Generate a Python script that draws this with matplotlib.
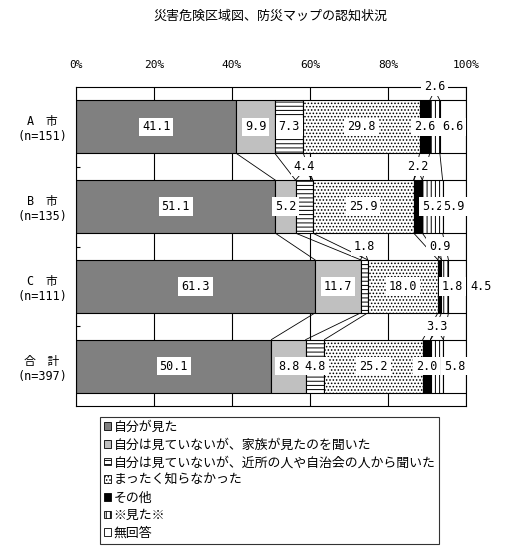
import numpy as np
import matplotlib
matplotlib.use("Agg")
import matplotlib.pyplot as plt
from matplotlib.patches import Patch

plt.rcParams['font.family'] = ['Noto Sans CJK JP', 'DejaVu Sans']
plt.rcParams['hatch.linewidth'] = 0.7

title = '災害危険区域図、防災マップの認知状況'
rows = ['A\u3000市\n(n=151)', 'B\u3000市\n(n=135)', 'C\u3000市\n(n=111)', '合\u3000計\n(n=397)']
series = ['自分が見た',
          '自分は見ていないが、家族が見たのを聞いた',
          '自分は見ていないが、近所の人や自治会の人から聞いた',
          'まったく知らなかった',
          'その他',
          '※見た※',
          '無回答']
jibun = [41.1, 51.1, 61.3, 50.1]
kazoku = [9.9, 5.2, 11.7, 8.8]
kinjo = [7.3, 4.4, 1.8, 4.8]
shiranai = [29.8, 25.9, 18.0, 25.2]
sonota = [2.6, 2.2, 0.9, 2.0]
mita = [2.6, 5.2, 1.8, 3.3]
mukaitou = [6.6, 5.9, 4.5, 5.8]

faces = ['#808080', '#c0c0c0', 'white', 'white', 'black', 'white', 'white']
hatches = [None, None, '----', '.....', None, '||||', None]

# labels drawn in the gap above the bar with leader lines: (row, series)
above = [(0, 5), (1, 2), (1, 4), (2, 2), (2, 4), (3, 5)]
# labels shifted sideways: (row, series) -> shift in %
shift = {(2, 5): 2.0, (2, 6): 6.0}

vals = np.array([jibun, kazoku, kinjo, shiranai, sonota, mita, mukaitou]).T
cum = np.cumsum(vals, axis=1)
left = cum - vals
y = np.arange(len(rows))
h = 0.665

fig = plt.figure(figsize=(5.05, 5.54), dpi=100)
ax = fig.add_axes([76 / 505, 1 - 406 / 554, 390 / 505, 319 / 554])

for j in range(vals.shape[1]):
    ax.barh(y, vals[:, j], left=left[:, j], height=h, color=faces[j],
            hatch=hatches[j], edgecolor='black', linewidth=0.8, zorder=2,
            label=series[j])

# series lines between bars
for i in range(len(rows) - 1):
    for j in range(vals.shape[1] - 1):
        ax.plot([cum[i, j], cum[i + 1, j]], [i + h / 2, i + 1 - h / 2],
                color='black', lw=0.6, zorder=1)

box = dict(facecolor='white', edgecolor='none', pad=2.0)
for i in range(len(rows)):
    for j in range(vals.shape[1]):
        v = vals[i, j]
        xc = left[i, j] + v / 2 + shift.get((i, j), 0)
        if (i, j) in above:
            yl = i - 0.5
            ax.text(xc, yl, f'{v:.1f}', ha='center', va='center', fontsize=8.5,
                    family='DejaVu Sans Mono', bbox=box, zorder=5, clip_on=False)
            for xe in (left[i, j], cum[i, j]):
                ax.plot([xc + (xe - xc) * 0.3, xe], [yl + 0.08, i - h / 2],
                        color='black', lw=0.6, zorder=4, clip_on=False)
        else:
            ax.text(xc, i, f'{v:.1f}', ha='center', va='center', fontsize=8.5,
                    family='DejaVu Sans Mono',
                    bbox=None if (i, j) == (2, 6) else box, zorder=5, clip_on=False)

ax.set_xlim(0, 100)
ax.set_ylim(len(rows) - 0.5, -0.5)
ax.set_xticks([0, 20, 40, 60, 80, 100])
ax.set_xticklabels(['0%', '20%', '40%', '60%', '80%', '100%'], family='DejaVu Sans Mono', fontsize=8)
ax.xaxis.tick_top()
ax.tick_params(axis='x', length=0, pad=12)
ax.set_yticks(y)
ax.set_yticklabels(rows, family=['DejaVu Sans Mono', 'Noto Sans CJK JP'], fontsize=8.5,
                   ha='center', linespacing=1.2)
ax.tick_params(axis='y', length=0, pad=24.5)
ax.set_yticks([0.5, 1.5, 2.5], minor=True)
ax.tick_params(axis='y', which='minor', direction='in', length=3, width=0.8)
ax.grid(axis='x', color='black', lw=0.8, zorder=0)
ax.set_axisbelow(True)
for s in ax.spines.values():
    s.set_linewidth(0.8)

fig.text(270 / 505, 1 - 16 / 554, title, ha='center', va='center', fontsize=9.4)

handles = [Patch(facecolor=faces[j], hatch=hatches[j], edgecolor='black', linewidth=0.6)
           for j in range(len(series))]
leg = fig.legend(handles, series, loc='upper left', bbox_to_anchor=(100 / 505, 1 - 417 / 554),
                 fontsize=9.3, frameon=True, fancybox=False, edgecolor='black',
                 handlelength=0.55, handleheight=0.55, handletextpad=0.2,
                 labelspacing=0.36, borderpad=0.3, borderaxespad=0)
leg.get_frame().set_linewidth(0.8)

fig.savefig('out.png', dpi=100)
